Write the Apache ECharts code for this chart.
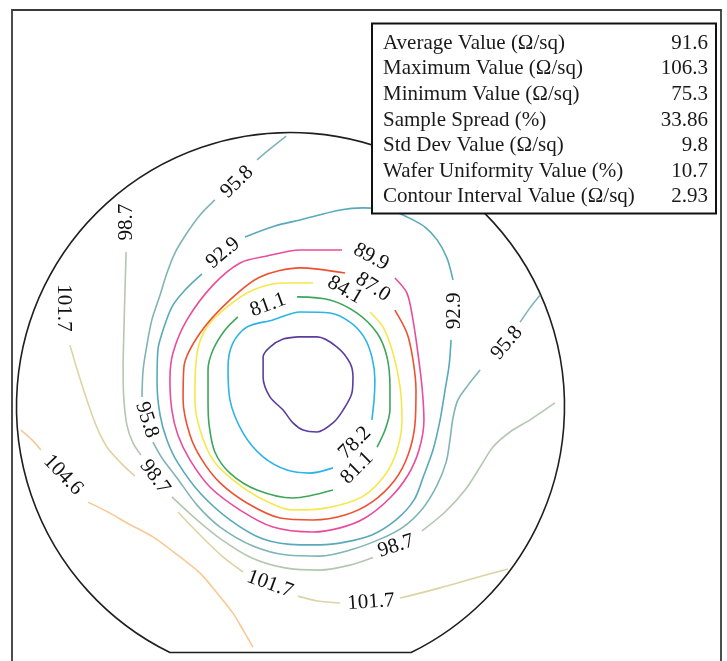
<!DOCTYPE html>
<html>
<head>
<meta charset="utf-8">
<title>Sheet resistance contour map</title>
<script src="https://cdn.jsdelivr.net/npm/echarts@6/dist/echarts.min.js"></script>
<style>
  html, body { margin: 0; padding: 0; background: #fff; }
  #chart { width: 727px; height: 661px; }
</style>
</head>
<body>
<div id="chart"></div>
<script>
// Wafer sheet-resistance contour map. Coordinates are in mm from the wafer centre.
const waferRadius = 100;
const flatOffset = 89.8;
const yBottom = -92;          // lowest y shown (just below the flat)

// Contour levels (Ω/sq); the innermost ring around the minimum is unlabelled
const levels = [75.3, 78.2, 81.1, 84.1, 87.0, 89.9, 92.9, 95.8, 98.7, 101.7, 104.6];

// Each contour is a list of polyline segments (gaps are left where labels sit)
const ring75_3 = [
  [[2.7,25.4],[9.7,25.4],[17.0,21.7],[21.7,15.9],[22.8,10.8],[22.4,4.9],[19.2,-1.3],[15.5,-6.0],
   [9.7,-9.3],[4.6,-8.6],[0.9,-6.0],[-2.7,-1.3],[-7.5,3.5],[-10.0,10.8],[-10.0,18.1],[-7.5,21.7],
   [-2.7,24.6],[2.7,25.4]]
];
const ring78_2 = [
  [[29.7,-4.9],[30.5,2.4],[30.8,9.7],[29.7,18.1],[26.8,25.4],[21.7,30.8],[14.4,34.1],[3.5,34.5],
   [-6.4,31.6],[-15.9,29.0],[-21.0,23.2],[-22.8,14.4],[-22.1,2.4],[-17.3,-9.7],[-10.0,-18.4],
   [-1.3,-23.2],[7.1,-24.3],[15.5,-22.4]]
];
const ring81_1 = [
  [[2.4,40.0],[14.4,38.9],[24.3,34.1],[31.6,26.8],[35.2,18.1],[36.3,7.1],[36.3,-1.3],[34.5,-8.6],[31.6,-14.8]],
  [[15.5,-30.5],[0.9,-33.4],[-12.2,-30.5],[-22.1,-24.3],[-27.6,-16.6],[-29.7,-6.8],[-30.1,2.4],
   [-30.1,13.3],[-28.3,20.6],[-23.9,27.9],[-19.2,32.7]]
];
const ring84_1 = [
  [[29.0,34.5],[33.8,29.0],[37.4,19.5],[40.0,7.1],[40.7,-4.9],[38.9,-15.9],[34.5,-25.0],[26.1,-33.0],
   [13.3,-37.0],[0.9,-37.8],[-11.1,-33.4],[-21.0,-26.8],[-28.3,-19.5],[-33.0,-8.6],[-34.9,2.4],
   [-34.1,19.5],[-30.5,29.0],[-23.2,36.3],[-13.7,42.5],[-2.7,45.1],[8.2,45.1]]
];
const ring87_0 = [
  [[38.1,35.2],[42.5,26.8],[44.7,17.0],[45.8,6.0],[45.4,-6.8],[42.9,-17.7],[38.1,-26.8],[29.7,-34.9],
   [19.9,-39.6],[8.2,-41.4],[-3.8,-40.7],[-15.9,-35.2],[-25.7,-27.9],[-32.3,-19.5],[-36.7,-10.4],
   [-39.2,2.4],[-38.9,14.4],[-33.0,26.8],[-22.1,38.9],[-11.1,47.3],[3.5,50.6],[19.9,48.7]]
];
const ring89_9 = [
  [[38.1,46.9],[42.5,41.4],[44.7,31.6],[46.5,19.5],[48.0,7.1],[48.7,-4.9],[46.9,-15.9],[42.9,-25.0],
   [36.3,-33.4],[27.2,-40.7],[18.1,-44.3],[8.2,-45.8],[-6.4,-44.0],[-18.4,-37.8],[-29.4,-29.4],
   [-36.7,-19.5],[-41.1,-10.4],[-43.3,-1.3],[-44.0,9.7],[-42.9,19.5],[-37.8,31.6],[-28.3,44.3],
   [-18.4,52.4],[-8.6,54.9],[3.5,57.1],[10.8,57.1],[18.8,57.1]]
];
const ring92_9 = [
  [[-16.6,61.9],[-5.7,65.9],[3.5,68.1],[18.1,71.7],[26.5,72.5],[36.3,71.7],[42.5,69.2],[49.1,65.5],
   [53.5,60.8],[57.1,54.2],[59.3,46.2]],
  [[58.6,24.3],[57.9,15.1],[56.4,6.0],[54.6,-4.9],[52.0,-15.9],[48.7,-25.0],[45.1,-34.1],[38.5,-41.4],
   [29.7,-46.9],[19.9,-49.5],[10.8,-50.5],[3.5,-50.5],[-10.0,-48.4],[-22.1,-41.4],[-33.0,-31.6],
   [-41.1,-20.6],[-45.1,-12.2],[-47.6,-3.1],[-48.7,8.6],[-48.4,20.6],[-46.5,27.9],[-43.3,36.3],
   [-38.5,42.5],[-32.3,48.4]]
];
const line95_8 = [
  [[-1.6,98.7],[-7.5,94.0],[-12.2,90.0]],
  [[-27.6,75.4],[-33.0,69.9],[-37.8,63.3],[-42.2,56.0],[-45.1,48.7],[-47.6,40.7],[-50.6,31.6],
   [-52.4,22.4],[-53.8,13.3],[-54.2,3.5]],
  [[-50.2,-13.0],[-46.9,-18.8],[-41.4,-26.1],[-34.1,-36.0],[-25.7,-44.0],[-13.7,-50.9],[-1.3,-54.2],
   [10.8,-54.6],[21.7,-52.4],[32.7,-48.4],[41.1,-44.0],[48.4,-37.0],[53.5,-28.7],[56.8,-20.3],
   [58.2,-12.2],[59.3,-4.2],[61.1,2.4],[64.8,7.8],[69.2,13.3]],
  [[83.8,30.8],[87.4,36.0],[91.1,40.7]]
];
const line98_7 = [
  [[-60.0,56.4],[-60.4,42.5],[-60.8,27.9],[-61.1,13.3],[-60.8,2.4],[-59.7,-6.8],[-57.5,-13.3],[-54.6,-17.7]],
  [[-43.3,-33.0],[-34.9,-40.7],[-25.0,-48.7],[-14.1,-55.3],[-2.0,-58.9],[10.8,-59.7],[21.7,-57.9],[30.1,-55.1]],
  [[48.0,-45.4],[56.4,-38.5],[63.7,-30.5],[69.2,-22.1],[73.9,-14.8],[80.1,-9.3],[87.4,-4.9],[96.5,1.3]]
];
const line101_7 = [
  [[-80.5,22.4],[-77.6,12.6],[-74.3,2.4],[-71.0,-6.8],[-67.0,-14.8],[-62.2,-20.3],[-56.8,-25.4]],
  [[-41.1,-38.5],[-33.0,-46.9],[-25.0,-54.6],[-17.3,-60.4]],
  [[2.7,-69.2],[10.0,-71.0],[18.1,-71.7]],
  [[40.0,-69.9],[54.6,-66.2],[67.3,-62.6],[79.4,-59.3]]
];
const line104_6 = [
  [[-98.4,-8.6],[-94.3,-12.2],[-91.1,-15.9]],
  [[-73.9,-34.9],[-65.9,-38.9],[-59.7,-42.5],[-50.2,-47.6],[-40.3,-54.9],[-33.0,-60.8],[-26.8,-68.1],
   [-21.0,-75.4],[-17.3,-81.6],[-13.7,-87.8]]
];

const contours = [ring75_3, ring78_2, ring81_1, ring84_1, ring87_0, ring89_9,
                  ring92_9, line95_8, line98_7, line101_7, line104_6];

// Label anchors [x, y, level] and their tilt in degrees (counter-clockwise)
const labelSpots = [
  [-19.5, 81.9, 95.8], [-60.0, 67.3, 98.7], [-83.0, 36.0, 101.7], [-24.6, 56.0, 92.9],
  [29.4, 54.6, 89.9], [30.1, 43.6, 87.0], [19.9, 42.5, 84.1], [-8.2, 37.0, 81.1],
  [59.7, 34.9, 92.9], [79.0, 23.2, 95.8], [-52.4, -4.9, 95.8], [-49.5, -25.7, 98.7],
  [-83.0, -25.0, 104.6], [23.5, -13.3, 78.2], [24.3, -22.4, 81.1], [-7.5, -64.8, 101.7],
  [29.4, -71.4, 101.7], [38.5, -50.9, 98.7]
];
const labelTilt = [44, 90, -90, 40, -28, -33, -30, 20, 90, 50, -72, -54, -46, 45, 45, -20, 4, 18];

// Summary statistics shown in the box
const statNames = [
  'Average Value (Ω/sq)', 'Maximum Value (Ω/sq)', 'Minimum Value (Ω/sq)', 'Sample Spread (%)',
  'Std Dev Value (Ω/sq)', 'Wafer Uniformity Value (%)', 'Contour Interval Value (Ω/sq)'
];
const statValues = ['91.6', '106.3', '75.3', '33.86', '9.8', '10.7', '2.93'];

const contourColors = ['#5b3d9d', '#2cb4e8', '#3da65b', '#f5e84a', '#ef5130', '#e94c9b',
                       '#58a9ba', '#80b4b7', '#b4c7b0', '#ddd3a4', '#f8c994'];

const serif = '"Liberation Serif", "Times New Roman", serif';
const pxPerMm = 2.74;

const series = [];

// Wafer outline with its flat
series.push({
  type: 'custom',
  coordinateSystem: 'cartesian2d',
  data: [[0, 0]],
  silent: true,
  z: 1,
  renderItem: function (params, api) {
    const r = api.size([waferRadius, 0])[0];
    const half = Math.sqrt(waferRadius * waferRadius - flatOffset * flatOffset);
    const a = api.coord([-half, -flatOffset]);
    const b = api.coord([half, -flatOffset]);
    return {
      type: 'path',
      shape: { pathData: 'M' + a[0] + ' ' + a[1] + ' A' + r + ' ' + r + ' 0 1 1 ' + b[0] + ' ' + b[1] + ' Z' },
      style: { fill: 'none', stroke: '#1f1f1f', lineWidth: 1.6 }
    };
  }
});

// Contour polylines
contours.forEach(function (segments, i) {
  segments.forEach(function (seg) {
    series.push({
      type: 'line',
      data: seg,
      smooth: 0.3,
      symbol: 'none',
      silent: true,
      z: 3,
      lineStyle: { color: contourColors[i], width: 1.6 }
    });
  });
});

// Contour value labels
series.push({
  type: 'custom',
  coordinateSystem: 'cartesian2d',
  data: labelSpots.map(function (s, i) { return [s[0], s[1], s[2], labelTilt[i]]; }),
  silent: true,
  z: 5,
  renderItem: function (params, api) {
    const p = api.coord([api.value(0), api.value(1)]);
    return {
      type: 'text',
      x: p[0],
      y: p[1],
      rotation: api.value(3) * Math.PI / 180,
      style: {
        text: api.value(2).toFixed(1),
        fontFamily: serif,
        fontSize: 21,
        fill: '#111',
        align: 'center',
        verticalAlign: 'middle'
      }
    };
  }
});

// Frame and statistics box
const graphic = [
  { type: 'rect', silent: true, z: 0,
    shape: { x: 12, y: 10, width: 709, height: 700 },
    style: { fill: 'none', stroke: '#3a3a3a', lineWidth: 1.8 } },
  { type: 'rect', silent: true, z: 100,
    shape: { x: 372, y: 23.5, width: 344, height: 190 },
    style: { fill: '#fff', stroke: '#111', lineWidth: 2 } }
];
statNames.forEach(function (name, i) {
  const y = 43.3 + i * 25.6;
  graphic.push({ type: 'text', silent: true, z: 101, x: 383, y: y,
    style: { text: name, fontFamily: serif, fontSize: 21, fill: '#1a1a1a', align: 'left', verticalAlign: 'middle' } });
  graphic.push({ type: 'text', silent: true, z: 101, x: 708, y: y,
    style: { text: statValues[i], fontFamily: serif, fontSize: 21, fill: '#1a1a1a', align: 'right', verticalAlign: 'middle' } });
});

const chart = echarts.init(document.getElementById('chart'));
chart.setOption({
  animation: false,
  backgroundColor: '#fff',
  grid: {
    left: 16.5,
    top: 132.5,
    width: 2 * waferRadius * pxPerMm,
    height: (waferRadius - yBottom) * pxPerMm,
    outerBoundsMode: 'none',
    containLabel: false
  },
  xAxis: { type: 'value', min: -waferRadius, max: waferRadius, show: false },
  yAxis: { type: 'value', min: yBottom, max: waferRadius, show: false },
  graphic: graphic,
  series: series
});
</script>
</body>
</html>
